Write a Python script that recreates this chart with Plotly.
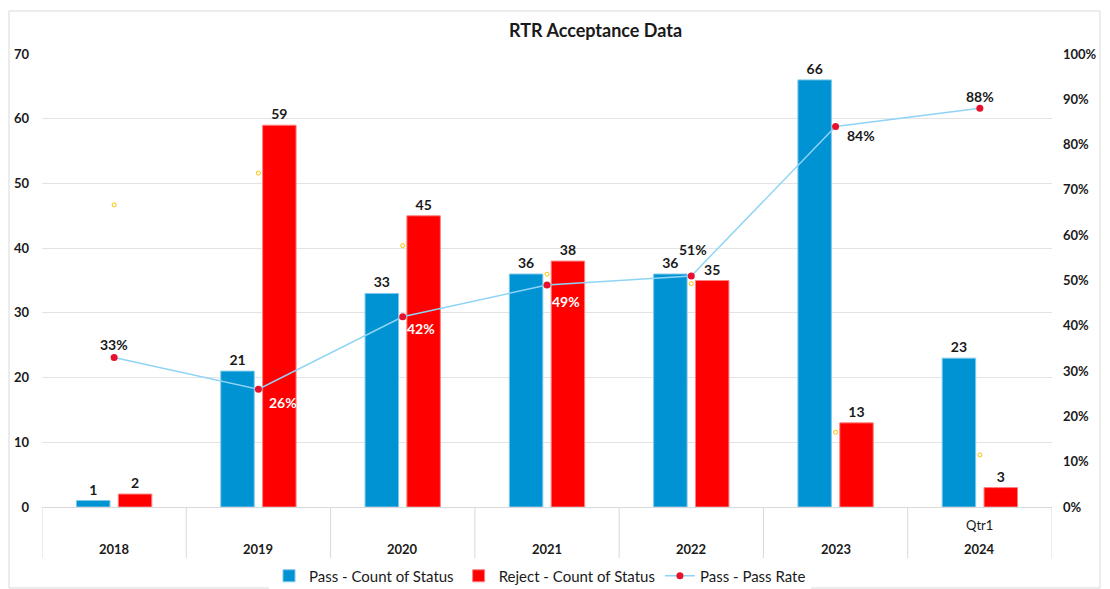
import plotly.graph_objects as go

# ---- data ----
years = ["2018", "2019", "2020", "2021", "2022", "2023", "2024"]
sub_labels = ["", "", "", "", "", "", "Qtr1"]
pass_count = [1, 21, 33, 36, 36, 66, 23]
reject_count = [2, 59, 45, 38, 35, 13, 3]
pass_rate = [0.33, 0.26, 0.42, 0.49, 0.51, 0.84, 0.88]
reject_rate = [0.667, 0.737, 0.577, 0.514, 0.493, 0.165, 0.115]
pass_rate_labels = ["33%", "26%", "42%", "49%", "51%", "84%", "88%"]
left_max = 70

FONT = "Lato, 'Open Sans', sans-serif"
BLUE = "#0093d3"
RED = "#ff0000"
xs = list(range(len(years)))

# plot area in px
W, H = 1110, 589
L, R, T, B = 42, 1052, 54, 507
pw, ph = R - L, B - T

def px_x(p):
    return (p - L) / pw

def px_y(p):
    return (B - p) / ph

fig = go.Figure()

fig.add_trace(go.Bar(
    x=xs, y=pass_count, name="Pass - Count of Status",
    marker=dict(color=BLUE, line=dict(color="#7fc8ea", width=1)),
    text=[str(v) for v in pass_count], textposition="outside",
    textfont=dict(family=FONT, size=14, color="#1a1a1a", weight="bold"),
    cliponaxis=False,
))
fig.add_trace(go.Bar(
    x=xs, y=reject_count, name="Reject - Count of Status",
    marker=dict(color=RED, line=dict(color="#ff8080", width=1)),
    text=[str(v) for v in reject_count], textposition="outside",
    textfont=dict(family=FONT, size=14, color="#1a1a1a", weight="bold"),
    cliponaxis=False,
))
fig.add_trace(go.Scatter(
    x=xs, y=pass_rate, name="Pass - Pass Rate", yaxis="y2",
    mode="lines+markers",
    line=dict(color="#8fd4f5", width=1.5),
    marker=dict(color="#e8112d", size=7),
    cliponaxis=False,
))
fig.add_trace(go.Scatter(
    x=xs, y=reject_rate, yaxis="y2", mode="markers", showlegend=False,
    marker=dict(symbol="circle-open", color="#ffc000", size=4, line=dict(width=1)),
    hoverinfo="skip",
))

shapes = []
# outer chart frame
shapes.append(dict(type="rect", xref="paper", yref="paper",
                   x0=px_x(9), x1=px_x(1100), y0=px_y(588), y1=px_y(11),
                   line=dict(color="#d9d9d9", width=1), layer="below"))
# category dividers
for i in range(len(years) + 1):
    shapes.append(dict(type="line", xref="x", yref="paper",
                       x0=i - 0.5, x1=i - 0.5, y0=0, y1=px_y(558),
                       line=dict(color="#d9d9d9", width=1)))

annotations = []
for i, (yr, sub) in enumerate(zip(years, sub_labels)):
    annotations.append(dict(x=i, y=px_y(549), xref="x", yref="paper", text=yr,
                            showarrow=False, yanchor="middle",
                            font=dict(family=FONT, size=13, color="#1a1a1a", weight="bold")))
    if sub:
        annotations.append(dict(x=i, y=px_y(525), xref="x", yref="paper", text=sub,
                                showarrow=False, yanchor="middle",
                                font=dict(family=FONT, size=13, color="#1a1a1a")))

# pass-rate data labels (placed like the original's label offsets)
label_shift = [(0, 13), (25, -13), (18, -12), (19, -16), (2, 26), (25, -9), (0, 12)]
label_color = ["#1a1a1a", "white", "white", "white", "#1a1a1a", "#1a1a1a", "#1a1a1a"]
for i, (lab, (dx, dy), col) in enumerate(zip(pass_rate_labels, label_shift, label_color)):
    annotations.append(dict(x=i, y=pass_rate[i], xref="x", yref="y2", text=lab,
                            showarrow=False, xshift=dx, yshift=dy,
                            xanchor="center", yanchor="middle",
                            font=dict(family=FONT, size=14, color=col, weight="bold")))

annotations.append(dict(x=px_x(595), y=px_y(30), xref="paper", yref="paper",
                        text="<b>RTR Acceptance Data</b>", showarrow=False,
                        xanchor="center", yanchor="middle",
                        font=dict(family=FONT, size=18, color="#1a1a1a")))

fig.update_layout(
    width=W, height=H,
    margin=dict(l=L, r=W - R, t=T, b=H - B, pad=0, autoexpand=False),
    paper_bgcolor="white", plot_bgcolor="white",
    barmode="group", bargap=0.42, bargroupgap=0.2,
    font=dict(family=FONT, size=13, color="#1a1a1a"),
    xaxis=dict(range=[-0.5, len(years) - 0.5], showticklabels=False, showgrid=False,
               zeroline=False, showline=True, linecolor="#d9d9d9", ticks=""),
    yaxis=dict(range=[0, left_max], dtick=10, showgrid=True, gridcolor="#e3e3e3",
               zeroline=False, showline=False, ticks="", ticklabelstandoff=12,
               tickfont=dict(family=FONT, size=13, color="#1a1a1a", weight="bold")),
    yaxis2=dict(range=[0, 1], dtick=0.1, tickformat=".0%", overlaying="y", side="right",
                showgrid=False, zeroline=False, showline=False, ticks="", ticklabelstandoff=10,
                tickfont=dict(family=FONT, size=13, color="#1a1a1a", weight="bold")),
    legend=dict(orientation="h", xref="container", yref="container",
                x=540 / W, xanchor="center", y=(H - 576) / H, yanchor="middle",
                font=dict(family=FONT, size=15, color="#1a1a1a"), itemwidth=30,
                traceorder="normal"),
    shapes=shapes, annotations=annotations,
    showlegend=True,
)

fig.write_html("out.html")
